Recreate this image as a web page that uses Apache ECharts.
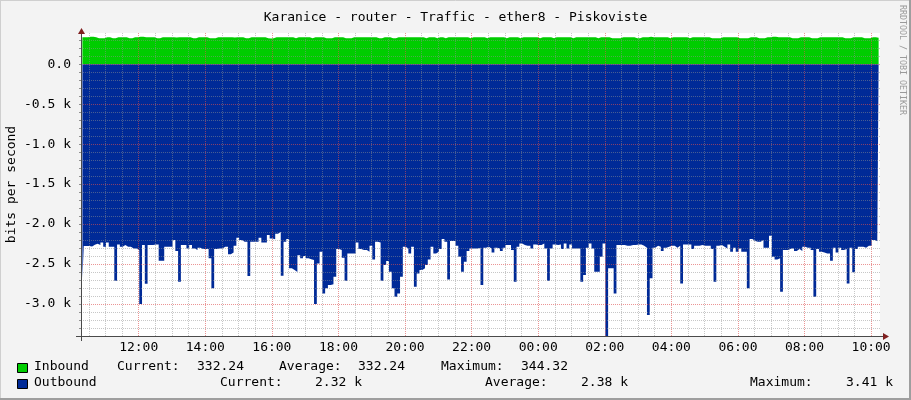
<!DOCTYPE html>
<html>
<head>
<meta charset="utf-8">
<script src="https://cdn.jsdelivr.net/npm/echarts@6/dist/echarts.min.js"></script>
<style>
  html, body { margin: 0; padding: 0; background: #f3f3f3; }
  #chart { width: 911px; height: 400px; }
</style>
</head>
<body>
<div id="chart"></div>
<script>
// time axis in minutes since 00:00 of the first day, one sample every 5 minutes
var startMinute = 616;   // 10:16
var stepMinutes = 5;
var spanMinutes = 1440;

var timeLabels = [720, 840, 960, 1080, 1200, 1320, 1440, 1560, 1680, 1800, 1920, 2040];
var yLabels = [-3000, -2500, -2000, -1500, -1000, -500, 0];

// inbound, bits per second
var inbound = [
  336, 337, 336, 344, 343, 337, 324, 323, 325, 336, 337, 324, 325, 336, 338, 337, 336, 323, 325, 336, 337, 343, 344, 337,
  336, 337, 336, 324, 323, 336, 338, 337, 336, 337, 335, 336, 338, 337, 336, 337, 324, 325, 336, 337, 338, 336, 324, 323,
  325, 336, 337, 336, 338, 337, 336, 335, 337, 336, 337, 324, 323, 336, 337, 338, 336, 337, 336, 324, 322, 325, 336, 337,
  336, 338, 337, 336, 337, 324, 336, 337, 338, 336, 337, 323, 336, 337, 336, 338, 324, 323, 325, 336, 337, 336, 337, 324,
  323, 325, 336, 337, 338, 336, 337, 336, 338, 337, 336, 324, 323, 336, 337, 336, 325, 324, 336, 337, 338, 336, 337, 336,
  338, 337, 336, 337, 324, 336, 337, 336, 323, 336, 337, 324, 336, 338, 337, 336, 337, 336, 338, 337, 324, 336, 337, 336,
  338, 337, 323, 336, 337, 336, 338, 337, 336, 324, 337, 336, 338, 337, 325, 336, 337, 336, 338, 337, 336, 324, 336, 337,
  336, 338, 323, 336, 337, 336, 338, 337, 336, 324, 337, 336, 338, 337, 336, 337, 338, 336, 324, 337, 336, 338, 337, 325,
  323, 324, 325, 336, 337, 336, 338, 337, 324, 323, 336, 337, 338, 344, 337, 336, 337, 338, 336, 337, 324, 336, 337, 336,
  338, 337, 336, 324, 336, 337, 338, 336, 337, 336, 338, 324, 323, 325, 324, 336, 337, 336, 338, 337, 336, 324, 323, 325,
  324, 336, 337, 338, 324, 323, 325, 336, 337, 343, 344, 337, 336, 338, 337, 336, 324, 323, 325, 336, 337, 338, 336, 324,
  323, 325, 336, 337, 338, 336, 337, 336, 338, 337, 336, 324, 323, 325, 336, 337, 338, 336, 324, 323, 325, 336, 337, 332
];

// outbound, bits per second (drawn below zero)
var outbound = [
  2679, 2275, 2275, 2280, 2260, 2245, 2263, 2229, 2283, 2229, 2283, 2283, 2708, 2254, 2283, 2263, 2283, 2283, 2304, 2304, 2325, 3000, 2263, 2746,
  2263, 2263, 2254, 2254, 2458, 2458, 2283, 2283, 2283, 2200, 2338, 2721, 2263, 2263, 2304, 2263, 2304, 2325, 2296, 2313, 2313, 2313, 2429, 2804,
  2313, 2304, 2304, 2283, 2283, 2379, 2354, 2271, 2171, 2200, 2221, 2221, 2650, 2221, 2221, 2221, 2171, 2229, 2229, 2138, 2179, 2190, 2120, 2100,
  2645, 2220, 2187, 2554, 2575, 2600, 2390, 2429, 2400, 2429, 2440, 2450, 3000, 2492, 2346, 2867, 2804, 2762, 2754, 2658, 2312, 2325, 2421, 2708,
  2367, 2367, 2367, 2229, 2312, 2325, 2325, 2346, 2271, 2442, 2221, 2229, 2708, 2512, 2462, 2596, 2804, 2908, 2867, 2658, 2283, 2304, 2367, 2283,
  2783, 2617, 2575, 2554, 2512, 2442, 2283, 2367, 2346, 2312, 2187, 2221, 2692, 2212, 2212, 2271, 2408, 2596, 2471, 2337, 2304, 2304, 2304, 2296,
  2762, 2296, 2283, 2304, 2354, 2296, 2304, 2337, 2296, 2263, 2263, 2325, 2721, 2283, 2242, 2263, 2271, 2271, 2304, 2254, 2263, 2263, 2242, 2304,
  2708, 2304, 2254, 2263, 2254, 2312, 2242, 2304, 2254, 2304, 2304, 2304, 2721, 2638, 2296, 2242, 2304, 2596, 2596, 2408, 2242, 3408, 2554, 2554,
  2867, 2263, 2263, 2263, 2271, 2271, 2263, 2263, 2254, 2254, 2271, 2296, 3137, 2679, 2296, 2271, 2283, 2337, 2296, 2283, 2271, 2271, 2296, 2271,
  2742, 2254, 2254, 2254, 2312, 2271, 2271, 2263, 2271, 2271, 2271, 2312, 2721, 2271, 2263, 2283, 2304, 2254, 2346, 2296, 2346, 2304, 2346, 2346,
  2804, 2187, 2212, 2221, 2221, 2200, 2296, 2296, 2145, 2408, 2442, 2429, 2846, 2325, 2325, 2304, 2304, 2337, 2312, 2337, 2283, 2296, 2296, 2325,
  2908, 2312, 2346, 2354, 2367, 2367, 2458, 2296, 2354, 2296, 2325, 2312, 2742, 2296, 2604, 2312, 2283, 2283, 2296, 2271, 2271, 2200, 2212, 2320
];

// legend statistics as printed under the graph
var inboundStats = ['332.24', '332.24', '344.32'];
var outboundStats = ['2.32 k', '2.38 k', '3.41 k'];

var mono = 'DejaVu Sans Mono';
var gridMinor = 'rgba(143,143,143,0.5)';
var gridMajor = 'rgba(222,79,79,0.6)';
var axisColor = '#4a4a4a';
var arrowColor = '#7f1f1f';
var dots = [1, 1];

// grid positions: every 30 minutes across, every 100 bits up/down
var xTicks = [];
for (var m = 630; m <= startMinute + spanMinutes; m += 30) xTicks.push(m);
var yTicks = [];
for (var b = -3300; b <= 300; b += 100) yTicks.push(b);

// RRD draws its grid on top of the graph, so the grid goes into a markLine
var gridLines = [];
xTicks.forEach(function (v) {
  gridLines.push({ xAxis: v, lineStyle: { color: (v % 120 === 0) ? gridMajor : gridMinor, type: dots, width: 1 } });
});
yTicks.forEach(function (v) {
  gridLines.push({ yAxis: v, lineStyle: { color: (v % 500 === 0) ? gridMajor : gridMinor, type: dots, width: 1 } });
});

function toPoints(arr, sign) {
  return arr.map(function (v, i) {
    return [startMinute + stepMinutes * i + stepMinutes / 2, sign * v];
  });
}

function pad(n) { return n < 10 ? '0' + n : '' + n; }

function legendText(x, y, s) {
  return { type: 'text', left: x, top: y - 8,
    style: { text: s, font: '13px "' + mono + '"', fill: '#000' } };
}

var chart = echarts.init(document.getElementById('chart'));

var option = {
  backgroundColor: '#f3f3f3',
  animation: false,
  title: {
    text: 'Karanice - router - Traffic - ether8 - Piskoviste',
    left: 'center',
    top: 6,
    textStyle: { fontFamily: mono, fontSize: 13, fontWeight: 'normal', color: '#000' }
  },
  grid: {
    left: 81, right: 31, top: 33, bottom: 64,
    outerBoundsMode: 'none',
    show: true, backgroundColor: '#ffffff', borderWidth: 0
  },
  xAxis: {
    type: 'value',
    min: startMinute,
    max: startMinute + spanMinutes,
    z: 10,
    axisLine: { show: true, onZero: false, lineStyle: { color: axisColor, width: 1 } },
    axisTick: { show: false, customValues: xTicks },
    axisLabel: {
      customValues: timeLabels,
      margin: 5,
      fontFamily: mono, fontSize: 13, color: '#000',
      formatter: function (v) {
        return pad(Math.floor(v / 60) % 24) + ':' + pad(v % 60);
      }
    },
    splitLine: { show: false }
  },
  yAxis: {
    type: 'value',
    min: -3400,
    max: 390,
    interval: 100,
    z: 10,
    name: 'bits per second',
    nameLocation: 'middle',
    nameGap: 63,
    nameMoveOverlap: false,
    nameRotate: 90,
    nameTextStyle: { fontFamily: mono, fontSize: 13, color: '#000' },
    axisLine: { show: true, onZero: false, lineStyle: { color: axisColor, width: 1 } },
    axisTick: { show: true, length: 2, lineStyle: { color: '#909090' } },
    axisLabel: {
      margin: 10,
      fontFamily: mono, fontSize: 13, color: '#000',
      formatter: function (v) {
        if (yLabels.indexOf(v) < 0) return '';
        return v === 0 ? '0.0' : (v / 1000).toFixed(1) + ' k';
      }
    },
    splitLine: { show: false }
  },
  series: [
    {
      name: 'Inbound',
      type: 'line',
      step: 'middle',
      symbol: 'none',
      data: toPoints(inbound, 1),
      lineStyle: { width: 0 },
      areaStyle: { color: '#00cc00', opacity: 1 }
    },
    {
      name: 'Outbound',
      type: 'line',
      step: 'middle',
      symbol: 'none',
      data: toPoints(outbound, -1),
      lineStyle: { width: 0 },
      areaStyle: { color: '#002a97', opacity: 1 },
      markLine: {
        silent: true,
        symbol: 'none',
        animation: false,
        z: 6,
        label: { show: false },
        data: gridLines
      }
    }
  ],
  graphic: [
    // frame
    { type: 'line', shape: { x1: 0, y1: 0.5, x2: 911, y2: 0.5 }, style: { stroke: '#cfcfcf', lineWidth: 1 } },
    { type: 'line', shape: { x1: 0.5, y1: 0, x2: 0.5, y2: 400 }, style: { stroke: '#cfcfcf', lineWidth: 1 } },
    { type: 'line', shape: { x1: 0, y1: 399, x2: 911, y2: 399 }, style: { stroke: '#9e9e9e', lineWidth: 2 } },
    { type: 'line', shape: { x1: 910, y1: 0, x2: 910, y2: 400 }, style: { stroke: '#9e9e9e', lineWidth: 2 } },
    // axis overhang and arrow heads, rrdtool style
    { type: 'line', z: 20, shape: { x1: 76, y1: 336.5, x2: 884, y2: 336.5 }, style: { stroke: axisColor, lineWidth: 1 } },
    { type: 'line', z: 20, shape: { x1: 81.5, y1: 341, x2: 81.5, y2: 31 }, style: { stroke: axisColor, lineWidth: 1 } },
    { type: 'polygon', z: 21, shape: { points: [[883, 333], [889, 336.5], [883, 340]] }, style: { fill: arrowColor } },
    { type: 'polygon', z: 21, shape: { points: [[78, 34], [81.5, 28], [85, 34]] }, style: { fill: arrowColor } },
    // watermark
    { type: 'text', x: 902, y: 60, rotation: -Math.PI / 2,
      style: { text: 'RRDTOOL / TOBI OETIKER', font: '8.3px "' + mono + '"', fill: '#9a9a9a',
        align: 'center', verticalAlign: 'middle' } },
    // legend swatches
    { type: 'rect', shape: { x: 17.5, y: 363.5, width: 10, height: 9 }, style: { fill: '#00cc00', stroke: '#000', lineWidth: 1 } },
    { type: 'rect', shape: { x: 17.5, y: 379.5, width: 10, height: 9 }, style: { fill: '#002a97', stroke: '#000', lineWidth: 1 } },
    legendText(34, 368, 'Inbound'),
    legendText(117, 368, 'Current:'),
    legendText(197, 368, inboundStats[0]),
    legendText(279, 368, 'Average:'),
    legendText(358, 368, inboundStats[1]),
    legendText(441, 368, 'Maximum:'),
    legendText(521, 368, inboundStats[2]),
    legendText(34, 384, 'Outbound'),
    legendText(220, 384, 'Current:'),
    legendText(315, 384, outboundStats[0]),
    legendText(485, 384, 'Average:'),
    legendText(581, 384, outboundStats[1]),
    legendText(750, 384, 'Maximum:'),
    legendText(846, 384, outboundStats[2])
  ]
};

chart.setOption(option);
</script>
</body>
</html>
